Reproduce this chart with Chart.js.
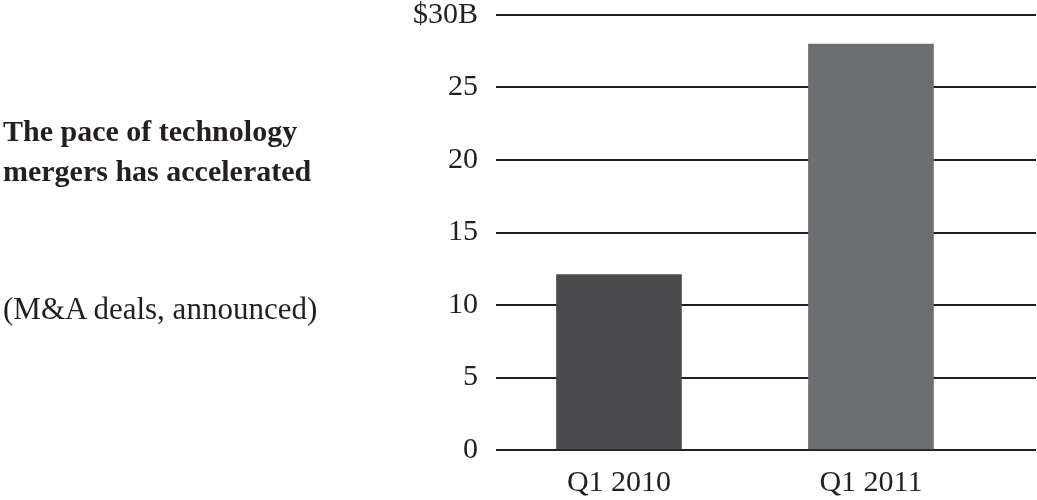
<!DOCTYPE html>
<html>
<head>
<meta charset="utf-8">
<script src="https://cdn.jsdelivr.net/npm/chart.js@4/dist/chart.umd.min.js"></script>
<style>
  html, body { margin: 0; padding: 0; background: #fff; overflow: hidden; }
  .wrap { position: relative; width: 1037px; height: 500px; }
  canvas { position: absolute; left: 0; top: 0; }
  .note {
    position: absolute; left: 3px;
    font-family: "Liberation Serif", "DejaVu Serif", serif;
    color: #231f20; white-space: nowrap;
  }
  .title { top: 111px; font-size: 30px; font-weight: bold; line-height: 40px; }
  .sub { top: 289px; font-size: 31px; line-height: 40px; }
</style>
</head>
<body>
<div class="wrap">
  <canvas id="chart" width="1037" height="500"></canvas>
  <div class="note title">The pace of technology<br>mergers has accelerated</div>
  <div class="note sub">(M&amp;A deals, announced)</div>
</div>
<script>
// data
const categories = ["Q1 2010", "Q1 2011"];
const dealValues = [12.1, 28];           // $ billions
const barColors = ["#4b4b4d", "#6d6e71"];
const yTicks = [0, 5, 10, 15, 20, 25, 30];

const ink = "#231f20";
const serif = "'Liberation Serif', 'DejaVu Serif', serif";

new Chart(document.getElementById("chart"), {
  type: "bar",
  data: {
    datasets: [{
      data: categories.map((c, i) => ({ x: i, y: dealValues[i] })),
      backgroundColor: barColors,
      borderWidth: 0,
      barThickness: 125
    }]
  },
  options: {
    responsive: false,
    animation: false,
    layout: { padding: { left: 0, right: 1, top: 0, bottom: 0 } },
    plugins: { legend: { display: false }, tooltip: { enabled: false } },
    scales: {
      x: {
        type: "linear",
        offset: false,
        bounds: "data",
        min: -0.488,
        max: 1.655,
        grid: { display: false },
        border: { display: false },
        afterBuildTicks: s => { s.ticks = categories.map((c, i) => ({ value: i })); },
        afterFit: s => { s.height = 50; },
        ticks: {
          color: ink,
          padding: 10,
          font: { family: serif, size: 30, lineHeight: 1 },
          callback: v => categories[v] ?? ""
        }
      },
      y: {
        min: 0,
        max: 30,
        grid: { color: ink, lineWidth: 2, drawTicks: false },
        border: { display: false },
        afterBuildTicks: s => { s.ticks = yTicks.map(v => ({ value: v })); },
        afterFit: s => { s.width = 496; s.paddingTop = 15; },
        ticks: {
          color: ink,
          padding: 18,
          font: { family: serif, size: 30, lineHeight: 1 },
          callback: v => v === 30 ? "$30B" : v
        }
      }
    }
  }
});
</script>
</body>
</html>
